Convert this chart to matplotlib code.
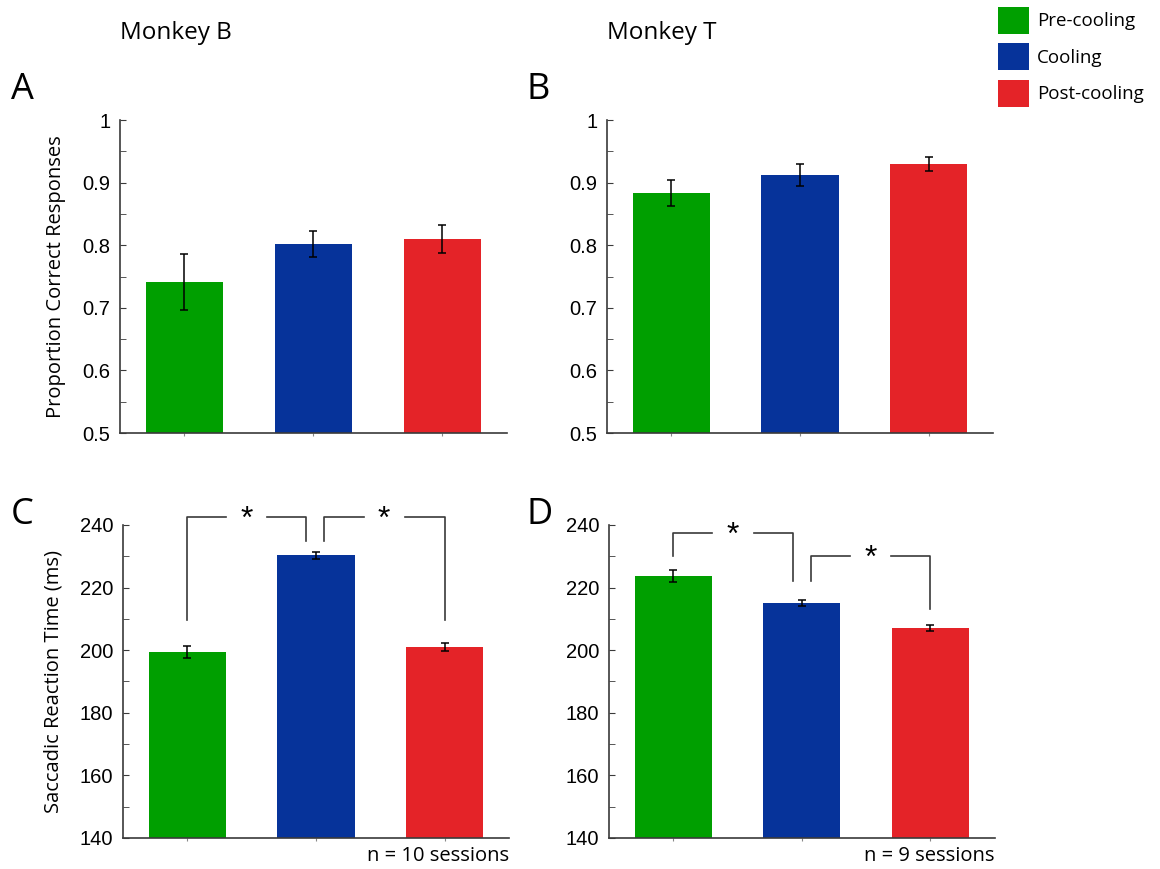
import numpy as np
import matplotlib
matplotlib.use('Agg')
import matplotlib.pyplot as plt
from matplotlib.patches import Patch

# Data
conditions = ['Pre-cooling', 'Cooling', 'Post-cooling']
colors = ['#009F00', '#06339A', '#E42328']

acc_b = [0.741, 0.802, 0.810]
acc_b_err = [0.045, 0.021, 0.022]
acc_t = [0.883, 0.912, 0.930]
acc_t_err = [0.021, 0.017, 0.011]

rt_b = [199.4, 230.3, 201.0]
rt_b_err = [1.9, 1.2, 1.3]
rt_t = [223.7, 215.0, 207.1]
rt_t_err = [2.0, 1.0, 1.0]

n_sessions = {'B': 10, 'T': 9}

LABEL_FONT = ['Open Sans', 'DejaVu Sans']
TICK_FONT = ['Liberation Sans', 'DejaVu Sans']
AXIS_COL = '#3a3a3a'

fig = plt.figure(figsize=(11.6, 8.69), dpi=100)

ax_a = fig.add_axes([0.1034, 0.5017, 0.3336, 0.3602])
ax_b = fig.add_axes([0.5233, 0.5017, 0.3328, 0.3602])
ax_c = fig.add_axes([0.1060, 0.0357, 0.3328, 0.3602])
ax_d = fig.add_axes([0.5250, 0.0357, 0.3325, 0.3602])

x = np.arange(1, len(conditions) + 1)


def draw_bars(ax, vals, errs):
    ax.bar(x, vals, width=0.6, color=colors, zorder=2)
    ax.errorbar(x, vals, yerr=errs, fmt='none', ecolor='black',
                elinewidth=1.1, capsize=3, capthick=1.1, zorder=3)
    ax.set_xlim(0.5, 3.5)
    for s in ['top', 'right']:
        ax.spines[s].set_visible(False)
    for s in ['left', 'bottom']:
        ax.spines[s].set_color(AXIS_COL)
        ax.spines[s].set_linewidth(1.2)
    ax.set_xticks(x)
    ax.set_xticklabels([])
    ax.tick_params(axis='x', length=2, color='#888888')
    ax.tick_params(axis='y', which='both', direction='in', length=4,
                   color=AXIS_COL, labelsize=14.5, pad=7)
    for lab in ax.get_yticklabels():
        lab.set_family(TICK_FONT)


def bracket(ax, x1, x2, ytop, yleft, yright, ystar, gap=0.16):
    xm = (x1 + x2) / 2
    kw = dict(color=AXIS_COL, lw=1.2, clip_on=False, zorder=4)
    ax.plot([x1, x1, xm - gap], [yleft, ytop, ytop], **kw)
    ax.plot([xm + gap, x2, x2], [ytop, ytop, yright], **kw)
    ax.text(xm, ystar, '*', ha='center', va='center', fontsize=23,
            family=TICK_FONT, clip_on=False)


# accuracy panels
for ax, vals, errs in [(ax_a, acc_b, acc_b_err), (ax_b, acc_t, acc_t_err)]:
    ax.set_ylim(0.5, 1.0)
    ax.set_yticks([0.5, 0.6, 0.7, 0.8, 0.9, 1.0])
    ax.set_yticks(np.arange(0.55, 1.0, 0.1), minor=True)
    ax.set_yticklabels(['0.5', '0.6', '0.7', '0.8', '0.9', '1'])
    draw_bars(ax, vals, errs)

# reaction time panels
for ax, vals, errs in [(ax_c, rt_b, rt_b_err), (ax_d, rt_t, rt_t_err)]:
    ax.set_ylim(140, 240)
    ax.set_yticks(np.arange(140, 241, 20))
    ax.set_yticks(np.arange(150, 240, 20), minor=True)
    draw_bars(ax, vals, errs)

ax_a.set_ylabel('Proportion Correct Responses', fontsize=14.5,
                family=LABEL_FONT, labelpad=12)
ax_c.set_ylabel('Saccadic Reaction Time (ms)', fontsize=14.5,
                family=LABEL_FONT, labelpad=12)

# significance brackets
bracket(ax_c, 1.0, 1.92, 242.6, 209.7, 234.9, 241.6)
bracket(ax_c, 2.06, 3.0, 242.6, 234.9, 209.7, 241.6)
bracket(ax_d, 1.0, 1.93, 237.5, 230.2, 222.2, 236.5)
bracket(ax_d, 2.07, 3.0, 230.2, 222.2, 213.0, 229.2)

# session counts
for ax, key in [(ax_c, 'B'), (ax_d, 'T')]:
    ax.text(1.0, -0.025, f'n = {n_sessions[key]} sessions', transform=ax.transAxes,
            ha='right', va='top', fontsize=14.5, family=LABEL_FONT)

# titles and panel letters
fig.text(120 / 1160, 1 - 33 / 869, 'Monkey B', fontsize=17.5, family=LABEL_FONT,
         ha='left', va='center')
fig.text(607 / 1160, 1 - 33 / 869, 'Monkey T', fontsize=17.5, family=LABEL_FONT,
         ha='left', va='center')
for lab, px, py in [('A', 11, 90), ('B', 527, 90), ('C', 11, 515), ('D', 527, 515)]:
    fig.text(px / 1160, 1 - py / 869, lab, fontsize=26, family=LABEL_FONT,
             ha='left', va='center')

# legend
handles = [Patch(facecolor=c, edgecolor='none', label=l) for c, l in zip(colors, conditions)]
fig.legend(handles=handles, loc='upper left', bbox_to_anchor=(988 / 1160, 1.004),
           frameon=False, prop={'family': LABEL_FONT, 'size': 13.5},
           handlelength=1.65, handleheight=1.84, handletextpad=0.4,
           labelspacing=0.5, borderaxespad=0.25, borderpad=0.3)

fig.savefig('out.png', dpi=100)
